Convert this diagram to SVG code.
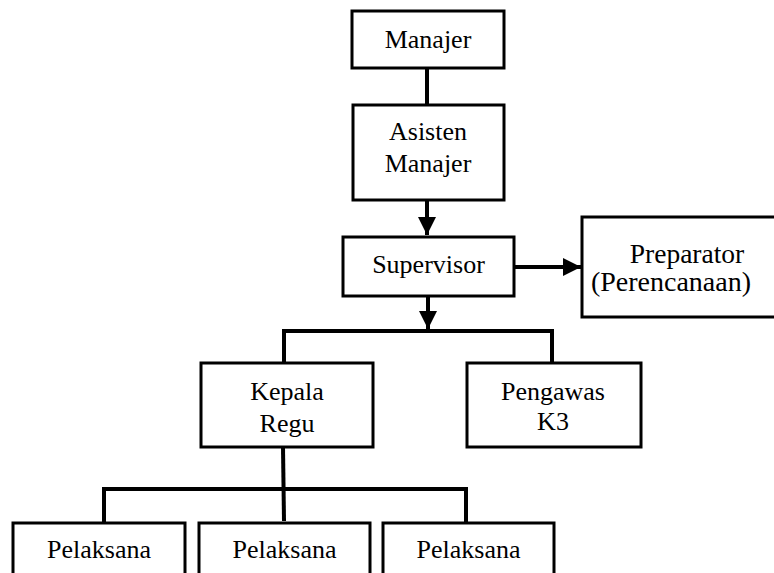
<svg xmlns="http://www.w3.org/2000/svg" width="774" height="573" viewBox="0 0 774 573">
<style>
.box{fill:#fff;stroke:#000;stroke-width:3}
.t{font-family:'Liberation Serif','Times New Roman',serif;font-size:26px;fill:#000;text-anchor:middle}
.c{fill:none;stroke:#000;stroke-width:4}
</style>
<defs>
<marker id="ah" viewBox="0 0 10 10" refX="10" refY="5" markerWidth="4.5" markerHeight="4.5" markerUnits="strokeWidth" orient="auto">
<path d="M0,0 L10,5 L0,10 Z" fill="#000"/>
</marker>
</defs>
<rect width="774" height="573" fill="#fff"/>
<g id="connectors">
<line class="c" x1="427" y1="68" x2="427" y2="105"/>
<line class="c" x1="427" y1="200" x2="427" y2="235" marker-end="url(#ah)"/>
<line class="c" x1="514" y1="267" x2="581" y2="267" marker-end="url(#ah)"/>
<line class="c" x1="428" y1="296" x2="428" y2="329" marker-end="url(#ah)"/>
<polyline class="c" points="284,363 284,331 552,331 552,363"/>
<line class="c" x1="283" y1="447" x2="284" y2="521"/>
<polyline class="c" points="104,522 104,489 466,489 466,522"/>
</g>
<g id="manajer">
<rect class="box" x="352" y="11" width="152" height="57"/>
<text class="t" x="428" y="48">Manajer</text>
</g>
<g id="asisten-manajer">
<rect class="box" x="353" y="105" width="151" height="95"/>
<text class="t" x="428" y="140">Asisten</text>
<text class="t" x="428" y="172">Manajer</text>
</g>
<g id="supervisor">
<rect class="box" x="343" y="237" width="171" height="59"/>
<text class="t" x="428.5" y="273">Supervisor</text>
</g>
<g id="preparator">
<rect class="box" x="582" y="217" width="200" height="100"/>
<text class="t" x="687" y="263" style="font-size:27.5px">Preparator</text>
<text class="t" x="671" y="291" style="font-size:28px">(Perencanaan)</text>
</g>
<g id="kepala-regu">
<rect class="box" x="201" y="363" width="172" height="84"/>
<text class="t" x="287" y="400">Kepala</text>
<text class="t" x="287" y="432">Regu</text>
</g>
<g id="pengawas-k3">
<rect class="box" x="467" y="363" width="174" height="84"/>
<text class="t" x="553" y="400">Pengawas</text>
<text class="t" x="553" y="430">K3</text>
</g>
<g id="pelaksana-1">
<rect class="box" x="13" y="523" width="172" height="60"/>
<text class="t" x="99" y="558">Pelaksana</text>
</g>
<g id="pelaksana-2">
<rect class="box" x="199" y="523" width="171" height="60"/>
<text class="t" x="284.5" y="558">Pelaksana</text>
</g>
<g id="pelaksana-3">
<rect class="box" x="383" y="523" width="171" height="60"/>
<text class="t" x="468.5" y="558">Pelaksana</text>
</g>
</svg>
